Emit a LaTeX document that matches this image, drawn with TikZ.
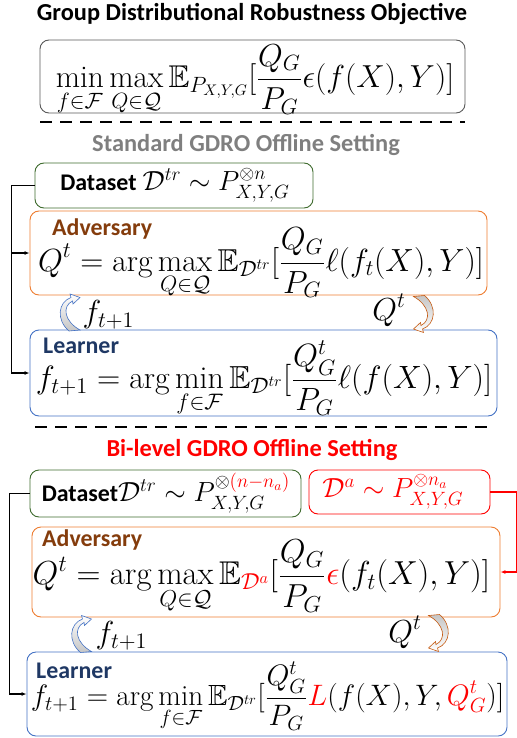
\documentclass[tikz,border=0pt]{standalone}
\usepackage{graphicx}
\usepackage{amsmath,amssymb}
\usepackage{fontspec}
\newfontfamily\headfont{Carlito}
\usetikzlibrary{arrows.meta,positioning}
\definecolor{framegray}{HTML}{595959}
\definecolor{dsgreen}{HTML}{3F6B2E}
\definecolor{advorange}{HTML}{ED7D31}
\definecolor{advbrown}{HTML}{843C0C}
\definecolor{bendbrown}{HTML}{C55A11}
\definecolor{lrnblue}{HTML}{4472C4}
\definecolor{lrnnavy}{HTML}{1F3864}
\definecolor{headgray}{HTML}{7F7F7F}
\newcommand{\eqbig}[2][1.54]{\scalebox{#1}{$\displaystyle #2$}}
\newcommand{\eqmid}[1]{\scalebox{1.34}{$#1$}}
\tikzset{
  box/.style={draw, rounded corners=9bp, line width=0.9bp, inner sep=0pt},
  head/.style={font=\headfont\bfseries\fontsize{24.5}{28}\selectfont},
  tag/.style={font=\headfont\bfseries\fontsize{24}{28}\selectfont, anchor=west, inner sep=0pt},
  eq/.style={font=\fontsize{20.5}{24}\selectfont, inner sep=0pt},
  sep/.style={line width=1.8bp, dash pattern=on 12bp off 8bp},
  conn/.style={line width=1.1bp, -{Latex[length=5bp,width=4bp]}},
  bend/.pic={
    \path[pic actions] (-5.5,0.5) .. controls (-18.5,-10.5) and (-16.5,-28.5) .. (-3.5,-33)
      -- (-4.5,-36.5) -- (5.5,-33) -- (-1.5,-26.5) -- (-2,-29.5)
      .. controls (-13,-24) and (-10,-9) .. (5.5,-0.5) -- cycle;
  }
}
\begin{document}
\begin{tikzpicture}[x=1bp,y=-1bp]
  \useasboundingbox (0,0) rectangle (517,738);
  % objective
  \node[head] (title) at (252,14) {Group Distributional Robustness Objective};
  \node[box, draw=framegray, minimum width=425bp, minimum height=73bp] (obj) at (252.5,76.5) {};
  \node[eq] (objeq) at (255,80) {\eqbig{\min_{f\in\mathcal{F}}\max_{Q\in\mathcal{Q}}\mathbb{E}_{P_{X,Y,G}}[\frac{Q_G}{P_G}\epsilon(f(X),Y)]}};
  \draw[sep] (40,122) -- (465,122);

  % standard setting
  \node[head, text=headgray] (std) at (246,145) {Standard GDRO Offline Setting};
  \node[box, draw=dsgreen, minimum width=278bp, minimum height=45bp] (ds1) at (174,185.5) {};
  \node[eq] (ds1eq) at (175,185) {{\headfont\bfseries\fontsize{24}{28}\selectfont Dataset} \eqmid{\mathcal{D}^{tr}\sim P^{\otimes n}_{X,Y,G}}};
  \node[box, draw=advorange, minimum width=457bp, minimum height=84bp] (adv1) at (258.5,253) {};
  \node[tag, text=advbrown] (adv1tag) at (52,229) {Adversary};
  \node[eq] (adv1eq) at (261,263.5) {\eqbig[1.55]{Q^t=\arg\max_{Q\in\mathcal{Q}}\mathbb{E}_{\mathcal{D}^{tr}}[\frac{Q_G}{P_G}\ell(f_t(X),Y)]}};
  \node[box, draw=lrnblue, minimum width=467bp, minimum height=86bp] (lrn1) at (263.5,373) {};
  \node[tag, text=lrnnavy] (lrn1tag) at (43,346) {Learner};
  \node[eq] (lrn1eq) at (264,379) {\eqbig[1.56]{f_{t+1}=\arg\min_{f\in\mathcal{F}}\mathbb{E}_{\mathcal{D}^{tr}}[\frac{Q^t_G}{P_G}\ell(f(X),Y)]}};
  \pic[draw=lrnblue, top color=white, bottom color=gray!45, line width=0.6bp] at (74.5,330.5) {bend};
  \pic[draw=bendbrown, top color=gray!45, bottom color=white, line width=0.6bp, rotate=180] at (419,296) {bend};
  \node[eq] (f1) at (108.5,315) {\eqbig{f_{t+1}}};
  \node[eq] (q1) at (389,310) {\eqbig{Q^t}};
  \draw[conn] (ds1.west) -- ++(-23,0) coordinate (s1) |- (lrn1.west);
  \draw[conn] (s1 |- adv1.west) -- (adv1.west);
  \draw[sep] (35,427) -- (487,427);

  % bi-level setting
  \node[head, text=red] (bil) at (252,450) {Bi-level GDRO Offline Setting};
  \node[box, draw=dsgreen, minimum width=271bp, minimum height=47bp] (ds2) at (165.5,493.5) {};
  \node[eq] (ds2eq) at (166,493) {{\headfont\bfseries\fontsize{24}{28}\selectfont Dataset}\eqmid{\mathcal{D}^{tr}\sim P^{\otimes{\color{red}(n-n_a)}}_{X,Y,G}}};
  \node[box, draw=red, minimum width=181bp, minimum height=44bp] (da) at (399.5,492) {};
  \node[eq, text=red] (daeq) at (393,492) {\eqmid{\mathcal{D}^a\sim P^{\otimes n_a}_{X,Y,G}}};
  \node[box, draw=advorange, minimum width=468bp, minimum height=90bp] (adv2) at (266,572) {};
  \node[tag, text=advbrown] (adv2tag) at (42,540) {Adversary};
  \node[eq] (adv2eq) at (261.5,577) {\eqbig[1.61]{Q^t=\arg\max_{Q\in\mathcal{Q}}\mathbb{E}_{\color{red}\mathcal{D}^a}[\frac{Q_G}{P_G}{\color{red}\epsilon}(f_t(X),Y)]}};
  \node[box, draw=lrnblue, minimum width=480bp, minimum height=84bp] (lrn2) at (267,694) {};
  \node[tag, text=lrnnavy] (lrn2tag) at (36,671) {Learner};
  \node[eq] (lrn2eq) at (267.5,697) {\eqbig[1.43]{f_{t+1}=\arg\min_{f\in\mathcal{F}}\mathbb{E}_{\mathcal{D}^{tr}}[\frac{Q^t_G}{P_G}{\color{red}L}(f(X),Y,{\color{red}Q^t_G})]}};
  \pic[draw=lrnblue, top color=white, bottom color=gray!45, line width=0.6bp] at (86,652) {bend};
  \pic[draw=bendbrown, top color=gray!45, bottom color=white, line width=0.6bp, rotate=180] at (434,615) {bend};
  \node[eq] (f2) at (121.5,636) {\eqbig{f_{t+1}}};
  \node[eq] (q2) at (405,632) {\eqbig{Q^t}};
  \draw[conn] (ds2.west) -- ++(-20,0) |- (lrn2.west);
  \draw[conn, red] (da.east) -- ++(26,0) |- (adv2.east);
\end{tikzpicture}
\end{document}
